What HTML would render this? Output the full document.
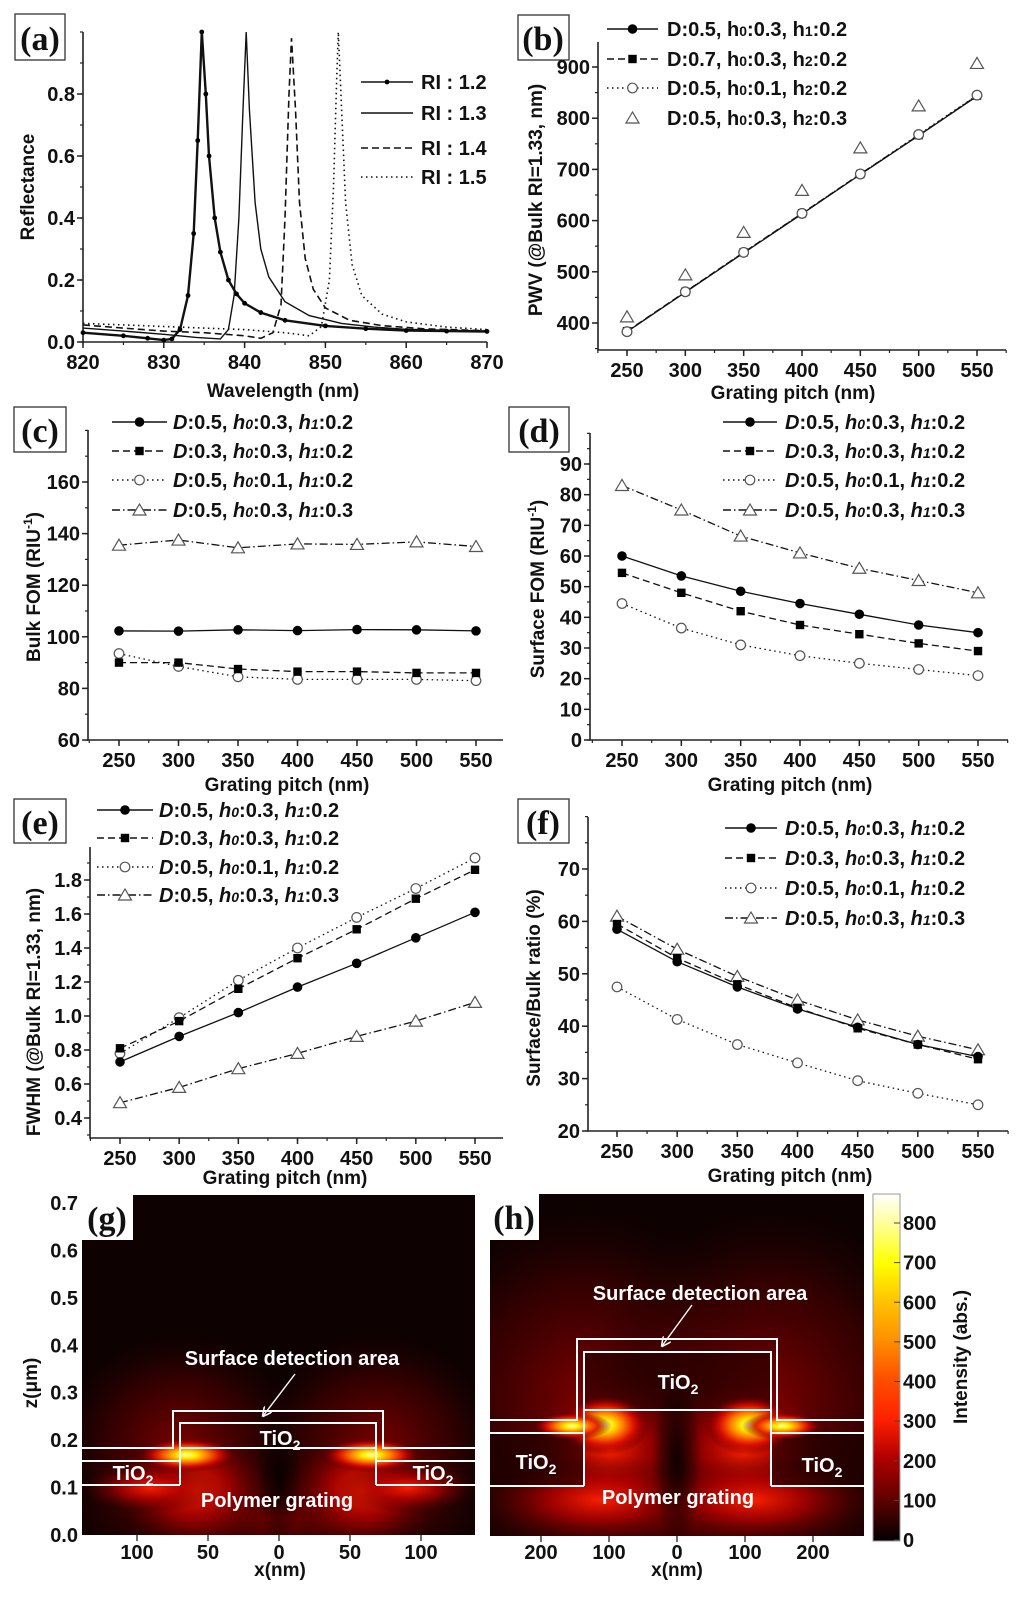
<!DOCTYPE html>
<html><head><meta charset="utf-8">
<style>
html,body{margin:0;padding:0;background:#fff;}
svg{display:block;font-family:"Liberation Sans",Arial,sans-serif;}
.t{font-weight:bold;font-size:20px;fill:#111;}
.ttl{font-weight:bold;font-size:19px;fill:#111;}
.pl{font-family:"Liberation Serif",serif;font-weight:bold;font-size:34px;fill:#111;}
.wt{font-weight:bold;font-size:20px;fill:#fff;}
</style></head>
<body>
<svg id="fig" width="1024" height="1597" viewBox="0 0 1024 1597" xmlns="http://www.w3.org/2000/svg">
<defs>
<radialGradient id="hot"><stop offset="0" stop-color="#ffffb0"/><stop offset=".18" stop-color="#ffee00"/><stop offset=".4" stop-color="#ff8000"/><stop offset=".65" stop-color="#e01000" stop-opacity=".9"/><stop offset=".85" stop-color="#900000" stop-opacity=".4"/><stop offset="1" stop-color="#300000" stop-opacity="0"/></radialGradient>
<radialGradient id="warm"><stop offset="0" stop-color="#ff2000" stop-opacity=".95"/><stop offset=".45" stop-color="#b00000" stop-opacity=".75"/><stop offset="1" stop-color="#400000" stop-opacity="0"/></radialGradient>
<radialGradient id="halo"><stop offset="0" stop-color="#8a0000" stop-opacity=".9"/><stop offset=".6" stop-color="#4a0000" stop-opacity=".6"/><stop offset="1" stop-color="#200000" stop-opacity="0"/></radialGradient>
<radialGradient id="dark"><stop offset="0" stop-color="#080000" stop-opacity=".9"/><stop offset="1" stop-color="#080000" stop-opacity="0"/></radialGradient>
<linearGradient id="cbar" x1="0" y1="1" x2="0" y2="0"><stop offset="0" stop-color="#000"/><stop offset=".12" stop-color="#600000"/><stop offset=".24" stop-color="#b00000"/><stop offset=".35" stop-color="#ff2000"/><stop offset=".47" stop-color="#ff5000"/><stop offset=".58" stop-color="#ff9000"/><stop offset=".7" stop-color="#ffc800"/><stop offset=".8" stop-color="#ffff00"/><stop offset=".92" stop-color="#ffffa0"/><stop offset="1" stop-color="#ffffff"/></linearGradient>
<clipPath id="gclip"><rect x="82" y="1195" width="393" height="340"/></clipPath>
<clipPath id="hclip"><rect x="490" y="1194" width="374" height="342"/></clipPath>
<marker id="arr" viewBox="0 0 10 10" refX="9" refY="5" markerWidth="7" markerHeight="7" orient="auto"><path d="M0,0 L10,5 L0,10" fill="none" stroke="#fff" stroke-width="1.6"/></marker>
</defs>

<g><rect x="15" y="14" width="50" height="46" fill="#fff" stroke="#333" stroke-width="1.3"/><text class="pl" x="40" y="50" text-anchor="middle">(a)</text></g>
<g><rect x="518" y="15" width="51" height="45" fill="#fff" stroke="#333" stroke-width="1.3"/><text class="pl" x="543" y="50" text-anchor="middle">(b)</text></g>
<g><rect x="14" y="407" width="52" height="45" fill="#fff" stroke="#333" stroke-width="1.3"/><text class="pl" x="40" y="442" text-anchor="middle">(c)</text></g>
<g><rect x="509" y="407" width="60" height="45" fill="#fff" stroke="#333" stroke-width="1.3"/><text class="pl" x="539" y="442" text-anchor="middle">(d)</text></g>
<g><rect x="14" y="799" width="52" height="44" fill="#fff" stroke="#333" stroke-width="1.3"/><text class="pl" x="40" y="834" text-anchor="middle">(e)</text></g>
<g><rect x="518" y="799" width="51" height="44" fill="#fff" stroke="#333" stroke-width="1.3"/><text class="pl" x="543" y="834" text-anchor="middle">(f)</text></g>

<text class="ttl" x="283" y="397" text-anchor="middle">Wavelength (nm)</text>
<text class="ttl" transform="translate(34,187) rotate(-90)" text-anchor="middle">Reflectance</text>
<text class="ttl" x="793" y="399" text-anchor="middle">Grating pitch (nm)</text>
<text class="ttl" transform="translate(542,200) rotate(-90)" text-anchor="middle">PWV (@Bulk RI=1.33, nm)</text>
<text class="ttl" x="287" y="791" text-anchor="middle">Grating pitch (nm)</text>
<text class="ttl" transform="translate(40,587) rotate(-90)" text-anchor="middle">Bulk FOM (RIU<tspan font-size="12" dy="-8">-1</tspan><tspan dy="8">)</tspan></text>
<text class="ttl" x="790" y="791" text-anchor="middle">Grating pitch (nm)</text>
<text class="ttl" transform="translate(544,589) rotate(-90)" text-anchor="middle">Surface FOM (RIU<tspan font-size="12" dy="-8">-1</tspan><tspan dy="8">)</tspan></text>
<text class="ttl" x="285" y="1184" text-anchor="middle">Grating pitch (nm)</text>
<text class="ttl" transform="translate(40,1012) rotate(-90)" text-anchor="middle">FWHM (@Bulk RI=1.33, nm)</text>
<text class="ttl" x="790" y="1182" text-anchor="middle">Grating pitch (nm)</text>
<text class="ttl" transform="translate(540,988) rotate(-90)" text-anchor="middle">Surface/Bulk ratio (%)</text>

<g>
<rect x="82" y="1195" width="393" height="340" fill="#0d0101"/>
<g clip-path="url(#gclip)">
<ellipse cx="279" cy="1515" rx="230" ry="55" fill="url(#halo)"/>
<ellipse cx="180" cy="1445" rx="125" ry="115" fill="url(#halo)"/>
<ellipse cx="378" cy="1445" rx="125" ry="115" fill="url(#halo)"/>
<ellipse cx="195" cy="1490" rx="80" ry="65" fill="url(#warm)"/>
<ellipse cx="363" cy="1490" rx="80" ry="65" fill="url(#warm)"/>
<ellipse cx="150" cy="1488" rx="70" ry="25" fill="url(#warm)"/>
<ellipse cx="408" cy="1488" rx="70" ry="25" fill="url(#warm)"/>
<ellipse cx="279" cy="1480" rx="22" ry="70" fill="url(#dark)"/>
<ellipse cx="187" cy="1455" rx="50" ry="17" fill="url(#hot)"/>
<ellipse cx="371" cy="1455" rx="50" ry="17" fill="url(#hot)"/>
</g>
<path d="M82,1448 H173 V1411 H383 V1448 H475 M180,1485 V1423 H376 V1485 M180,1448 H376 M82,1461 H180 M376,1461 H475 M82,1485 H180 M376,1485 H475" fill="none" stroke="#fff" stroke-width="2"/>
<line x1="295" y1="1374" x2="263" y2="1416" stroke="#fff" stroke-width="1.4" marker-end="url(#arr)"/>
<text class="wt" x="292" y="1365" text-anchor="middle">Surface detection area</text>
<text class="wt" x="280" y="1445" text-anchor="middle">TiO<tspan font-size="14" dy="5">2</tspan></text>
<text class="wt" x="133" y="1480" text-anchor="middle">TiO<tspan font-size="14" dy="5">2</tspan></text>
<text class="wt" x="433" y="1480" text-anchor="middle">TiO<tspan font-size="14" dy="5">2</tspan></text>
<text class="wt" x="277" y="1507" text-anchor="middle">Polymer grating</text>
</g>
<g><rect x="82" y="1195" width="51" height="45" fill="#fff"/><text class="pl" x="107" y="1230" text-anchor="middle">(g)</text></g>
<text class="ttl" transform="translate(37,1383) rotate(-90)" text-anchor="middle">z(μm)</text>
<text class="ttl" x="280" y="1576" text-anchor="middle">x(nm)</text>

<g>
<rect x="490" y="1194" width="374" height="342" fill="#0d0101"/>
<g clip-path="url(#hclip)">
<ellipse cx="677" cy="1515" rx="230" ry="60" fill="url(#halo)"/>
<ellipse cx="583" cy="1400" rx="180" ry="200" fill="url(#halo)"/>
<ellipse cx="771" cy="1400" rx="180" ry="200" fill="url(#halo)"/>
<ellipse cx="610" cy="1450" rx="90" ry="85" fill="url(#warm)"/>
<ellipse cx="744" cy="1450" rx="90" ry="85" fill="url(#warm)"/>
<ellipse cx="600" cy="1500" rx="120" ry="45" fill="url(#warm)"/>
<ellipse cx="754" cy="1500" rx="120" ry="45" fill="url(#warm)"/>
<rect x="490" y="1434" width="94" height="52" fill="#150000" opacity=".6"/>
<rect x="771" y="1434" width="93" height="52" fill="#150000" opacity=".6"/>
<rect x="584" y="1353" width="187" height="57" fill="#150000" opacity=".5"/>
<ellipse cx="677" cy="1460" rx="24" ry="90" fill="url(#dark)"/>
<ellipse cx="605" cy="1425" rx="45" ry="30" fill="url(#hot)"/>
<ellipse cx="749" cy="1425" rx="45" ry="30" fill="url(#hot)"/>
<ellipse cx="572" cy="1426" rx="40" ry="14" fill="url(#hot)"/>
<ellipse cx="782" cy="1426" rx="40" ry="14" fill="url(#hot)"/>
</g>
<path d="M490,1420 H577 V1339 H777 V1420 H864 M584,1486 V1352 H771 V1486 M584,1410 H771 M490,1433 H584 M771,1433 H864 M490,1486 H584 M771,1486 H864" fill="none" stroke="#fff" stroke-width="2"/>
<line x1="692" y1="1305" x2="662" y2="1346" stroke="#fff" stroke-width="1.4" marker-end="url(#arr)"/>
<text class="wt" x="700" y="1300" text-anchor="middle">Surface detection area</text>
<text class="wt" x="678" y="1389" text-anchor="middle">TiO<tspan font-size="14" dy="5">2</tspan></text>
<text class="wt" x="536" y="1469" text-anchor="middle">TiO<tspan font-size="14" dy="5">2</tspan></text>
<text class="wt" x="822" y="1472" text-anchor="middle">TiO<tspan font-size="14" dy="5">2</tspan></text>
<text class="wt" x="678" y="1504" text-anchor="middle">Polymer grating</text>
</g>
<g><rect x="490" y="1194" width="49" height="46" fill="#fff"/><text class="pl" x="514" y="1229" text-anchor="middle">(h)</text></g>
<text class="ttl" x="677" y="1576" text-anchor="middle">x(nm)</text>

<rect x="873" y="1194" width="27" height="347" fill="url(#cbar)" stroke="#999" stroke-width="1"/>
<text class="ttl" transform="translate(967,1357) rotate(-90)" text-anchor="middle">Intensity (abs.)</text>
</svg>

<script>
const pitch=[250,300,350,400,450,500,550];
const pitchTicks=[250,300,350,400,450,500,550];
const a12wl=[820,825,828,830,831,832,833,833.7,834.2,834.7,835.2,835.6,836.3,837,838,839,840,842,845,850,855,860,865,870];
const a12R=[0.03,0.02,0.012,0.006,0.01,0.04,0.15,0.35,0.65,1.0,0.8,0.6,0.4,0.29,0.2,0.155,0.125,0.095,0.07,0.052,0.043,0.037,0.035,0.034];
const a13wl=[820,825,830,834,837,838,838.7,839.3,839.8,840.2,840.6,841.3,842,843,845,848,852,856,860,870];
const a13R=[0.045,0.035,0.025,0.015,0.01,0.04,0.15,0.4,0.75,1.0,0.75,0.45,0.3,0.21,0.13,0.085,0.06,0.048,0.041,0.035];
const a14wl=[820,825,830,835,840,842,843.5,844.5,845,845.5,845.8,846.3,846.8,847.5,848.5,850,853,857,862,870];
const a14R=[0.055,0.045,0.035,0.03,0.02,0.012,0.03,0.12,0.4,0.8,0.98,0.75,0.45,0.27,0.17,0.11,0.07,0.053,0.043,0.036];
const a15wl=[820,825,830,835,840,845,848,849.5,850.5,851,851.4,851.6,852,852.5,853.3,854.5,857,860,865,870];
const a15R=[0.06,0.055,0.05,0.045,0.04,0.03,0.02,0.05,0.2,0.5,0.85,1.0,0.75,0.45,0.25,0.15,0.09,0.065,0.048,0.04];
const aXTicks=[820,830,840,850,860,870];
const aYTicks=[0,0.2,0.4,0.6,0.8];
const aYLabels=["0.0","0.2","0.4","0.6","0.8"];
const bS1=[383,460,537,613,690,766,843];
const bS2=[384,461,538,614,691,767,844];
const bS3=[383,461,538,614,691,768,845];
const bS4=[412,494,577,659,742,824,907];
const bYTicks=[400,500,600,700,800,900];
const cS1=[102.3,102.2,102.7,102.4,102.8,102.7,102.3];
const cS2=[90,90,87.5,86.5,86.5,86,86];
const cS3=[93.5,88.5,84.5,83.5,83.5,83.5,83];
const cS4=[135.5,137.5,134.5,136,135.8,136.8,135];
const cYTicks=[60,80,100,120,140,160];
const dS1=[60,53.5,48.5,44.5,41,37.5,35];
const dS2=[54.5,48,42,37.5,34.5,31.5,29];
const dS3=[44.5,36.5,31,27.5,25,23,21];
const dS4=[83,75,66.5,61,56,52,48];
const dYTicks=[0,10,20,30,40,50,60,70,80,90];
const eS1=[0.73,0.88,1.02,1.17,1.31,1.46,1.61];
const eS2=[0.81,0.97,1.16,1.34,1.51,1.69,1.86];
const eS3=[0.78,0.99,1.21,1.40,1.58,1.75,1.93];
const eS4=[0.49,0.58,0.69,0.78,0.88,0.97,1.08];
const eYTicks=[0.4,0.6,0.8,1.0,1.2,1.4,1.6,1.8];
const eYLabels=["0.4","0.6","0.8","1.0","1.2","1.4","1.6","1.8"];
const fS1=[58.5,52.3,47.5,43.3,39.8,36.5,34.2];
const fS2=[59.5,53,48,43.5,39.6,36.5,33.7];
const fS3=[47.5,41.3,36.5,33,29.6,27.2,25];
const fS4=[61,54.7,49.5,45,41.2,38.1,35.5];
const fYTicks=[20,30,40,50,60,70];
const gXTicks=[-100,-50,0,50,100];
const gZTicks=[0,0.1,0.2,0.3,0.4,0.5,0.6,0.7];
const hXTicks=[-200,-100,0,100,200];
const cbTicks=[0,100,200,300,400,500,600,700,800];

const NS='http://www.w3.org/2000/svg';
const svg=document.getElementById('fig');
function mk(tag,attrs,parent){const e=document.createElementNS(NS,tag);for(const k in attrs)e.setAttribute(k,attrs[k]);(parent||svg).appendChild(e);return e;}
function lin(d0,d1,p0,p1){return v=>p0+(v-d0)*(p1-p0)/(d1-d0);}
const DASH={solid:'',dash:'7,4',dot:'1.5,3.5',dashdot:'8,3,1.5,3'};

function axes(p){
  const g=mk('g',{});
  
  
  mk('path',{d:`M${p.L},${p.T} V${p.B} H${p.R}`,fill:'none',stroke:'#222','stroke-width':1.6},g);
  for(let v=p.xmin0;v<=p.xmax0+1e-9;v+=p.xminor){const x=p.X(v);if(x<p.L-0.5||x>p.R+0.5)continue;
    const t=mk('line',{x1:x,x2:x,y1:p.B,y2:p.B+3,stroke:'#222','stroke-width':1.2},g);}
  for(let v=p.ymin0;v<=p.ymax0+1e-9;v+=p.yminor){const y=p.Y(v);if(y>p.B+0.5||y<p.T-0.5)continue;
    const t=mk('line',{x1:p.L-3,x2:p.L,y1:y,y2:y,stroke:'#222','stroke-width':1.2},g);}
  p.xt.forEach((v,i)=>{const x=p.X(v);
    const t=mk('line',{x1:x,x2:x,y1:p.B,y2:p.B+6,stroke:'#222','stroke-width':1.5},g);
    const l=mk('text',{x:x,y:p.B+27,'text-anchor':'middle',class:'t'},g);l.textContent=p.xl?p.xl[i]:String(v);});
  p.yt.forEach((v,i)=>{const y=p.Y(v);
    const t=mk('line',{x1:p.L-6,x2:p.L,y1:y,y2:y,stroke:'#222','stroke-width':1.5},g);
    const l=mk('text',{x:p.L-8,y:y+7,'text-anchor':'end',class:'t'},g);l.textContent=p.yl?p.yl[i]:String(v);});
}
function marker(g,type,x,y){
  let m;
  if(type==='fc'){m=mk('circle',{cx:x,cy:y,r:4.8,fill:'#000'},g);}
  else if(type==='fs'){m=mk('rect',{x:x-4.2,y:y-4.2,width:8.4,height:8.4,fill:'#000'},g);}
  else if(type==='oc'){m=mk('circle',{cx:x,cy:y,r:4.8,fill:'#fff',stroke:'#555','stroke-width':1.2},g);}
  else if(type==='ot'){m=mk('path',{d:`M${x},${y-6} L${x+6.5},${y+5} L${x-6.5},${y+5} Z`,fill:'#fff',stroke:'#555','stroke-width':1.2},g);}
  else if(type==='dot'){m=mk('circle',{cx:x,cy:y,r:2.4,fill:'#000'},g);}
  
  
}
function series(p,xs,ys,style,mt,name,lw){
  const g=mk('g',{});
  
  
  if(style){const pts=xs.map((v,i)=>p.X(v).toFixed(1)+','+p.Y(ys[i]).toFixed(1)).join(' ');
    const l=mk('polyline',{points:pts,fill:'none',stroke:'#111','stroke-width':lw||1.3,'stroke-dasharray':DASH[style]},g);
    }
  if(mt)xs.forEach((v,i)=>marker(g,mt,p.X(v),p.Y(ys[i])));
}
function legend(x1,x2,tx,y,style,mt,parts,name){
  const g=mk('g',{});
  
  
  if(style){mk('line',{x1:x1,x2:x2,y1:y,y2:y,stroke:'#111','stroke-width':1.4,'stroke-dasharray':DASH[style]},g);}
  if(mt)marker(g,mt,(x1+x2)/2,y);
  const t=mk('text',{x:tx,y:y+7,class:'t','font-size':'20'},g);
  parts.forEach(pt=>{const s=mk('tspan',{},t);if(pt[1])s.setAttribute('font-style','italic');if(pt[2])s.setAttribute('font-size','14');s.textContent=pt[0];});
}
function lab(D,h0,k,v,it){return [['D',it],[':'+D+', ',false],['h',it],['0',it,true],[':'+h0+', ',false],['h',it],[k,it,true],[':'+v,false]];}

const pa={name:'a',L:83,B:342,T:32,R:487,X:lin(820,870,83,487),Y:lin(0,0.8,342,94),xt:aXTicks,yt:aYTicks,yl:aYLabels,xmin0:820,xmax0:870,xminor:5,ymin0:0,ymax0:1.0,yminor:0.1};
axes(pa);
series(pa,a15wl,a15R,'dot',null,'series-ri-1.5',1.6);
series(pa,a14wl,a14R,'dash',null,'series-ri-1.4',1.6);
series(pa,a13wl,a13R,'solid',null,'series-ri-1.3',1.4);
series(pa,a12wl,a12R,'solid','dot','series-ri-1.2',2.4);
legend(361,413,421,82,'solid','dot',[['RI : 1.2']],'legend-ri-1.2');
legend(361,413,421,113,'solid',null,[['RI : 1.3']],'legend-ri-1.3');
legend(361,413,421,148,'dash',null,[['RI : 1.4']],'legend-ri-1.4');
legend(361,413,421,177,'dot',null,[['RI : 1.5']],'legend-ri-1.5');

const pb={name:'b',L:598,B:350,T:42,R:1006,X:lin(250,550,627,977),Y:lin(400,900,323,67),xt:pitchTicks,yt:bYTicks,xmin0:225,xmax0:575,xminor:25,ymin0:350,ymax0:950,yminor:50};
axes(pb);
series(pb,pitch,bS4,null,'ot','series-b-4');
series(pb,pitch,bS3,'dot','oc','series-b-3');
series(pb,pitch,bS2,'dash','fs','series-b-2');
series(pb,pitch,bS1,'solid',null,'series-b-1');
series(pb,pitch,bS3,null,'oc','series-b-3-top');
legend(607,658,667,29,'solid','fc',lab('0.5','0.3','1','0.2',false),'legend-b-1');
legend(607,658,667,59,'dash','fs',lab('0.7','0.3','2','0.2',false),'legend-b-2');
legend(607,658,667,88,'dot','oc',lab('0.5','0.1','2','0.2',false),'legend-b-3');
legend(607,658,667,118,null,'ot',lab('0.5','0.3','2','0.3',false),'legend-b-4');

function fourSeries(p,s1,s2,s3,s4,lx1,lx2,ltx,lys){
  series(p,pitch,s4,'dashdot','ot','series-'+p.name+'-4');
  series(p,pitch,s3,'dot','oc','series-'+p.name+'-3');
  series(p,pitch,s2,'dash','fs','series-'+p.name+'-2');
  series(p,pitch,s1,'solid','fc','series-'+p.name+'-1');
  legend(lx1,lx2,ltx,lys[0],'solid','fc',lab('0.5','0.3','1','0.2',true),'legend-'+p.name+'-1');
  legend(lx1,lx2,ltx,lys[1],'dash','fs',lab('0.3','0.3','1','0.2',true),'legend-'+p.name+'-2');
  legend(lx1,lx2,ltx,lys[2],'dot','oc',lab('0.5','0.1','1','0.2',true),'legend-'+p.name+'-3');
  legend(lx1,lx2,ltx,lys[3],'dashdot','ot',lab('0.5','0.3','1','0.3',true),'legend-'+p.name+'-4');
}
const pc={name:'c',L:88,B:740,T:430,R:503,X:lin(250,550,119,476),Y:lin(60,160,740,482),xt:pitchTicks,yt:cYTicks,xmin0:225,xmax0:575,xminor:25,ymin0:60,ymax0:180,yminor:10};
axes(pc);fourSeries(pc,cS1,cS2,cS3,cS4,112,167,173,[422,451,480,510]);
const pd={name:'d',L:590,B:740,T:433,R:1008,X:lin(250,550,622,978),Y:lin(0,90,740,464),xt:pitchTicks,yt:dYTicks,xmin0:225,xmax0:575,xminor:25,ymin0:0,ymax0:100,yminor:5};
axes(pd);fourSeries(pd,dS1,dS2,dS3,dS4,723,777,785,[422,451,480,510]);
const pe={name:'e',L:90,B:1138,T:847,R:503,X:lin(250,550,120,475),Y:lin(0.4,1.8,1118,880),xt:pitchTicks,yt:eYTicks,yl:eYLabels,xmin0:225,xmax0:575,xminor:25,ymin0:0.3,ymax0:2.0,yminor:0.1};
axes(pe);fourSeries(pe,eS1,eS2,eS3,eS4,97,153,159,[810,838,867,895]);
const pf={name:'f',L:588,B:1131,T:817,R:1008,X:lin(250,550,617,978),Y:lin(20,70,1131,869),xt:pitchTicks,yt:fYTicks,xmin0:225,xmax0:575,xminor:25,ymin0:20,ymax0:80,yminor:5};
axes(pf);fourSeries(pf,fS1,fS2,fS3,fS4,725,777,785,[828,858,888,918]);

const gX=lin(0,100,279,421), gZ=lin(0,0.7,1535,1203), hX=lin(0,100,677,745);
gXTicks.forEach(v=>{const x=gX(v);
  const t=mk('line',{x1:x,x2:x,y1:1535,y2:1541,stroke:'#222','stroke-width':1.3});
  const l=mk('text',{x:x,y:1559,'text-anchor':'middle',class:'t'});l.textContent=String(Math.abs(v));});
gZTicks.forEach(v=>{const y=gZ(v);
  const l=mk('text',{x:78,y:y+7,'text-anchor':'end',class:'t'});l.textContent=v.toFixed(1);});
hXTicks.forEach(v=>{const x=hX(v);
  const t=mk('line',{x1:x,x2:x,y1:1536,y2:1542,stroke:'#222','stroke-width':1.3});
  const l=mk('text',{x:x,y:1559,'text-anchor':'middle',class:'t'});l.textContent=String(Math.abs(v));});
const cbY=lin(0,800,1540,1223);
cbTicks.forEach(v=>{const y=cbY(v);
  const t=mk('line',{x1:894,x2:900,y1:y,y2:y,stroke:'#444','stroke-width':1});
  const l=mk('text',{x:903,y:y+7,'text-anchor':'start',class:'t'});l.textContent=String(v);});
</script>
</body></html>
